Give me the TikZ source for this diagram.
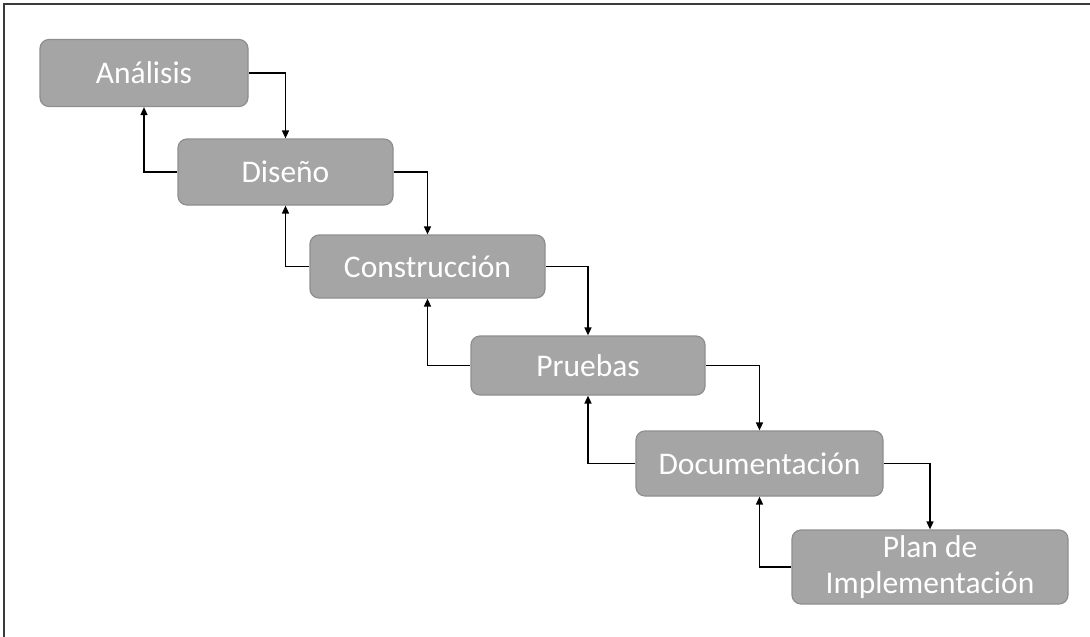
\documentclass[tikz,border=0pt]{standalone}
\usepackage{fontspec}
\setmainfont{Carlito}
\usetikzlibrary{arrows.meta}
\definecolor{boxfill}{HTML}{A5A5A5}
\definecolor{boxedge}{HTML}{8E8E8E}
\definecolor{framecol}{HTML}{3A3A3A}
\tikzset{
  phase/.style={draw=boxedge, fill=boxfill, line width=1.2pt, rounded corners=9pt,
    text=white, font=\fontsize{31.5}{36}\selectfont, align=center, inner sep=0pt},
  flow/.style={draw=black, line width=1.5pt, -{Triangle[length=8pt,width=7pt]}},
}
\begin{document}
\begin{tikzpicture}[x=1pt, y=-1pt]
\useasboundingbox (0,0) rectangle (1090,637);
% outer frame (top and left edges)
\draw[framecol, line width=2pt] (4,637) -- (4,4) -- (1090,4);

% phases
\node[phase, minimum width=208pt, minimum height=67pt] (ana) at (144,73) {Análisis};
\node[phase, minimum width=215pt, minimum height=66pt] (dis) at (285.5,172) {Diseño};
\node[phase, minimum width=235pt, minimum height=63pt] (con) at (427.5,266.5) {Construcción};
\node[phase, minimum width=234pt, minimum height=59pt] (pru) at (588,365.5) {Pruebas};
\node[phase, minimum width=247pt, minimum height=65pt] (doc) at (759.5,463.5) {Documentación};
\node[phase, minimum width=276pt, minimum height=74pt] (pla) at (930,567) {Plan de\\Implementación};

% forward flow
\draw[flow] (ana.east) -| (dis.north);
\draw[flow] (dis.east) -| (con.north);
\draw[flow] (con.east) -| (pru.north);
\draw[flow] (pru.east) -| (doc.north);
\draw[flow] (doc.east) -| (pla.north);

% feedback flow
\draw[flow] (dis.west) -| (ana.south);
\draw[flow] (con.west) -| (dis.south);
\draw[flow] (pru.west) -| (con.south);
\draw[flow] (doc.west) -| (pru.south);
\draw[flow] (pla.west) -| (doc.south);
\end{tikzpicture}
\end{document}
